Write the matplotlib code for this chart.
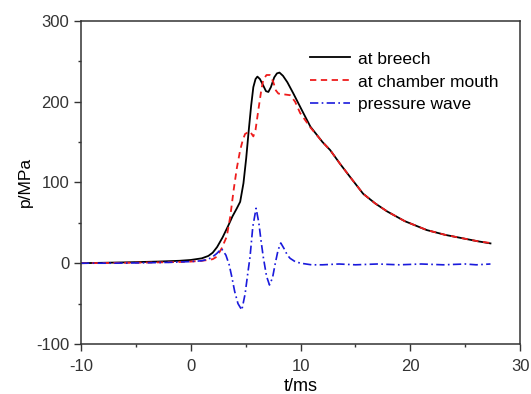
import matplotlib.pyplot as plt
from matplotlib.ticker import MultipleLocator

plt.rcParams['font.family'] = ['Liberation Sans', 'DejaVu Sans']
plt.rcParams['axes.unicode_minus'] = False

# pressure at breech
t_breech = [-10, -6, -3, -1, 0, 1.0, 1.6, 2.0, 2.4, 2.9, 3.4, 3.8, 4.2, 4.5, 4.8, 5.05, 5.25,
            5.5, 5.7, 5.9, 6.07, 6.3, 6.6, 6.85, 7.07, 7.3, 7.6, 7.85, 8.08, 8.4, 8.8,
            9.35, 10.1, 10.9, 12.0, 12.7, 13.6, 14.5, 15.7, 16.8, 17.9, 19.5, 21.5,
            23.2, 24.85, 26.2, 27.3]
p_breech = [0, 1, 2, 3, 4, 6, 9, 13, 20, 32, 46, 58, 68, 76, 99, 130, 160,
            195, 218, 228, 231, 228, 220, 213, 212, 218, 230, 235, 236, 232, 224,
            210, 190, 169, 150, 140, 123, 107, 86, 74, 64, 52, 41,
            35, 30.6, 27, 24.5]

# pressure at chamber mouth
t_mouth = [-10, -6, -3, -1, 0, 1.0, 1.6, 2.0, 2.37, 2.8, 3.28, 3.6, 3.9, 4.2, 4.5, 4.75,
           4.95, 5.2, 5.4, 5.55, 5.7, 5.9, 6.16, 6.4, 6.6, 6.9, 7.2, 7.5, 7.75, 7.98,
           8.5, 9.05, 9.5, 9.96, 10.9, 12.0, 12.7, 13.6, 14.5, 15.7, 16.8, 17.9,
           19.5, 21.5, 23.2, 24.85, 26.2, 27.3]
p_mouth = [0, 0.5, 1, 1.5, 2, 3, 4, 5, 8, 18, 33, 58, 90, 118, 140, 153,
           160, 162, 163, 160, 157, 165, 190, 212, 227, 233, 233, 225, 214, 210,
           209, 208, 200, 186, 168, 150, 140, 123, 107, 86, 74, 64,
           52, 41, 35, 30.6, 27, 25]

# pressure wave (difference)
t_wave = [-10, -7, -4, -2, 0, 1.0, 1.6, 2.0, 2.37, 2.8, 3.2, 3.5, 3.74, 4.0, 4.3, 4.65,
          4.95, 5.2, 5.4, 5.65, 5.95, 6.2, 6.4, 6.6, 6.9, 7.17, 7.45, 7.7, 7.95, 8.2,
          8.5, 8.8, 9.05, 9.5, 10.0, 11.0, 12.0, 13.5, 15.0, 17.0, 19.0, 21.0,
          23.0, 25.0, 26.0, 27.3]
p_wave = [0, 0, 0.5, 1, 2, 3, 5, 8, 12, 18, 10, -2, -17, -35, -50, -58,
          -38, -12, 8, 45, 68, 50, 28, 8, -16, -27, -18, 0, 16, 25,
          18, 10, 6, 2, 0, -2, -2, -1, -2, -1, -2, -1,
          -2, -1, -2, -1]

fig = plt.figure(figsize=(5.31, 3.94), dpi=100)
ax = fig.add_axes([0.1525, 0.127, 0.827, 0.82])

ax.plot(t_breech, p_breech, color='black', lw=1.3, label='at breech')
ax.plot(t_mouth, p_mouth, color='#ee1c1c', lw=1.3, ls=(0, (3.5, 2.5)), label='at chamber mouth')
ax.plot(t_wave, p_wave, color='#1a1adc', lw=1.2, ls=(0, (5, 2, 1, 2)), label='pressure wave')

ax.set_xlim(-10, 30)
ax.set_ylim(-100, 300)
ax.xaxis.set_major_locator(MultipleLocator(10))
ax.xaxis.set_minor_locator(MultipleLocator(5))
ax.yaxis.set_major_locator(MultipleLocator(100))
ax.yaxis.set_minor_locator(MultipleLocator(50))
ax.tick_params(which='major', direction='out', length=5, width=1, labelsize=12, colors='#333333')
ax.tick_params(axis='x', which='major', pad=6)
ax.tick_params(which='minor', direction='out', length=2.5, width=1, color='#333333')
for s in ax.spines.values():
    s.set_linewidth(1.1)
    s.set_color('#333333')

ax.set_xlabel('t/ms', fontsize=13, labelpad=3)
ax.set_ylabel('p/MPa', fontsize=12.5, labelpad=2)

ax.legend(loc='upper left', bbox_to_anchor=(0.505, 0.927), frameon=False, fontsize=12.5,
          borderaxespad=0, handlelength=2.35, handletextpad=0.45, labelspacing=0.45)

fig.savefig('out.png', dpi=100)
